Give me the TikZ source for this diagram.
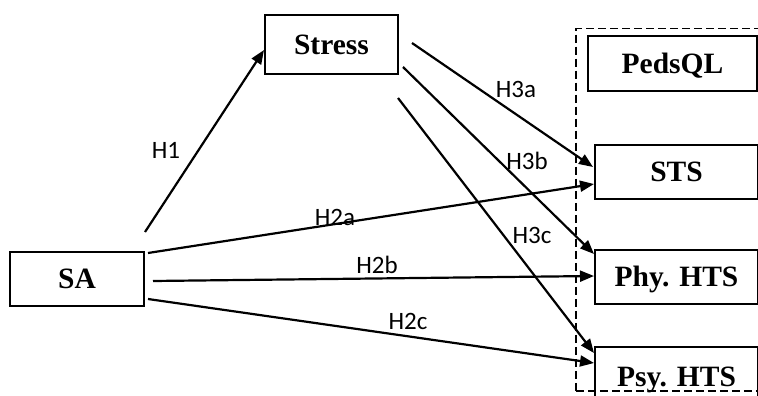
\documentclass[tikz,border=0pt]{standalone}
\usepackage{fontspec}
\setmainfont{Liberation Serif}
\newfontfamily\lblfont{Carlito}
\usetikzlibrary{arrows.meta}
\begin{document}
\begin{tikzpicture}[x=1pt,y=-1pt,
 box/.style={draw, line width=1.5pt, inner sep=0pt, text height=19.5pt, text depth=0pt,
   font=\fontsize{29.5}{31}\selectfont\bfseries},
 arr/.style={line width=2.2pt, -{Triangle[length=14pt,width=11pt]}},
 lbl/.style={font=\lblfont\fontsize{25}{27}\selectfont, inner sep=0pt, text height=16pt, text depth=0pt},
 grp/.style={draw, line width=1.5pt, dash pattern=on 8pt off 4pt}]
\useasboundingbox (0,0) rectangle (758,396);
\clip (0,0) rectangle (758,396);
\fill[white] (0,0) rectangle (758,396);
% group
\node[grp, minimum width=200pt, minimum height=362pt, anchor=north west] (grp) at (575,28) {};
% boxes
\node[box, minimum width=134pt, minimum height=54pt] (sa) at (77,279) {SA};
\node[box, minimum width=133pt, minimum height=59pt] (stress) at (331.5,44.5) {Stress};
\node[box, minimum width=169pt, minimum height=55pt] (peds) at (672.5,63.5) {PedsQL};
\node[box, minimum width=163pt, minimum height=54pt] (sts) at (676.5,172) {STS};
\node[box, minimum width=163pt, minimum height=54pt] (phy) at (676.5,277) {Phy. HTS};
\node[box, minimum width=163pt, minimum height=60pt] (psy) at (676.5,377) {Psy. HTS};
% endpoints
\coordinate (h1s) at (145,232);
\coordinate (h1e) at (264,50);
\coordinate (h2as) at (148,253);
\coordinate (h2ae) at (594,184);
\coordinate (h2bs) at (153,281);
\coordinate (h2be) at (594,276);
\coordinate (h2cs) at (148,299);
\coordinate (h2ce) at (594,363);
\coordinate (h3as) at (412,43);
\coordinate (h3ae) at (593,167);
\coordinate (h3bs) at (403,67);
\coordinate (h3be) at (594,254);
\coordinate (h3cs) at (398,98);
\coordinate (h3ce) at (594,353);
% arrows
\draw[arr] (h1s) -- (h1e);
\draw[arr] (h2as) -- (h2ae);
\draw[arr] (h2bs) -- (h2be);
\draw[arr] (h2cs) -- (h2ce);
\draw[arr] (h3as) -- (h3ae);
\draw[arr] (h3bs) -- (h3be);
\draw[arr] (h3cs) -- (h3ce);
% labels
\node[lbl] (l1) at (166,150) {H1};
\node[lbl] (l2a) at (335,217) {H2a};
\node[lbl] (l2b) at (377,265) {H2b};
\node[lbl] (l2c) at (408,321) {H2c};
\node[lbl] (l3a) at (516,89) {H3a};
\node[lbl] (l3b) at (527,161) {H3b};
\node[lbl] (l3c) at (532,235) {H3c};
\end{tikzpicture}
\end{document}
